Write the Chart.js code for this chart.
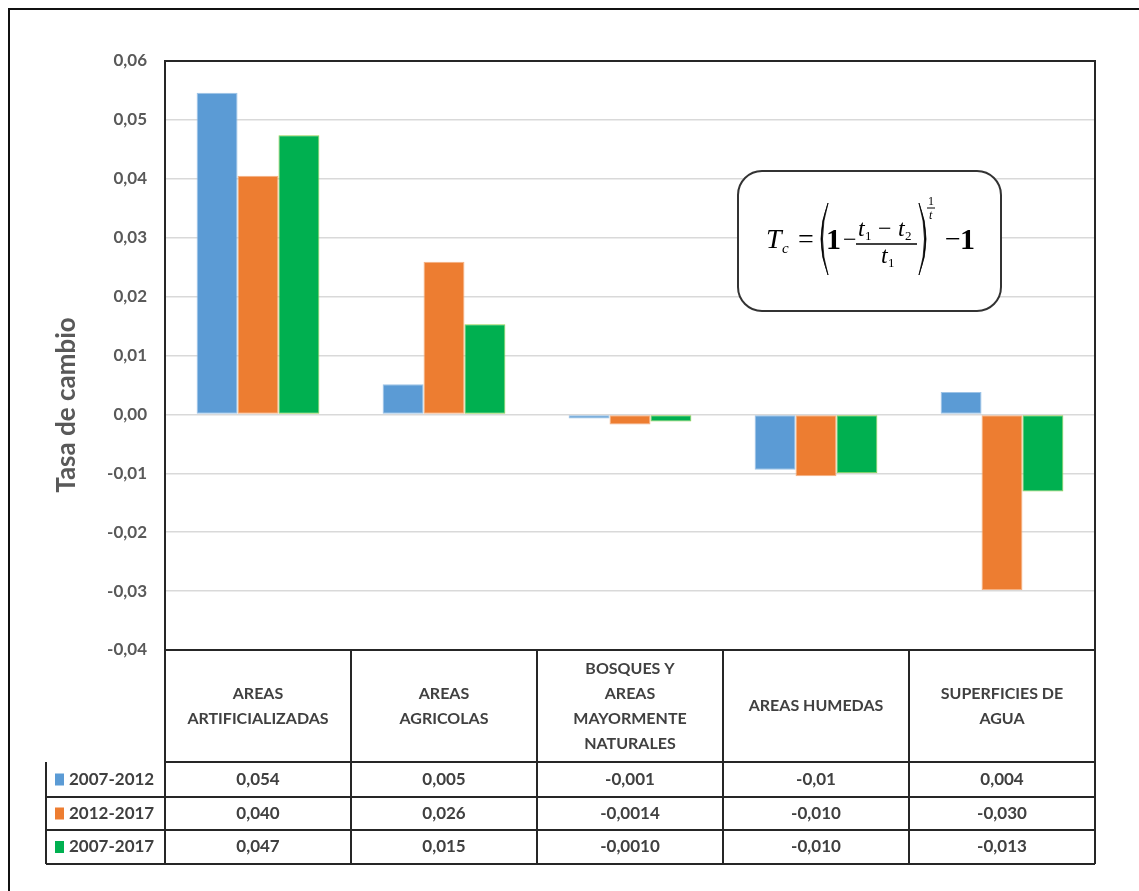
<!DOCTYPE html>
<html>
<head>
<meta charset="utf-8">
<script src="https://cdn.jsdelivr.net/npm/chart.js@4"></script>
<style>
  body { margin: 0; background: #fff; }
  canvas { display: block; }
</style>
</head>
<body>
<canvas id="tasa" width="1139" height="891"></canvas>
<script>
// categorias (lineas del encabezado de la tabla)
const categories = [
    ['AREAS', 'ARTIFICIALIZADAS'],
    ['AREAS', 'AGRICOLAS'],
    ['BOSQUES Y', 'AREAS', 'MAYORMENTE', 'NATURALES'],
    ['AREAS HUMEDAS'],
    ['SUPERFICIES DE', 'AGUA'],
];
const seriesNames = ['2007-2012', '2012-2017', '2007-2017'];
const seriesColors = ['#5B9BD5', '#ED7D31', '#00B050'];
const seriesBorders = ['#9DC3E6', '#F4B183', '#92D050'];

const values_0712 = [0.0546, 0.0051, -0.0007, -0.0094, 0.0038];
const values_1217 = [0.0405, 0.0259, -0.0017, -0.0105, -0.0298];
const values_0717 = [0.0474, 0.0153, -0.0012, -0.0100, -0.0131];

// textos de la tabla de datos
const table_0712 = ['0,054', '0,005', '-0,001', '-0,01', '0,004'];
const table_1217 = ['0,040', '0,026', '-0,0014', '-0,010', '-0,030'];
const table_0717 = ['0,047', '0,015', '-0,0010', '-0,010', '-0,013'];
const tableRows = [table_0712, table_1217, table_0717];

const yMin = -0.04, yMax = 0.06, yStep = 0.01;
const yTitle = 'Tasa de cambio';

const textColor = '#404040';
const font = 'Lato, "Open Sans", sans-serif';

// borde, tabla, titulo y formula
const extras = {
    id: 'extras',
    afterDraw(chart) {
        const ctx = chart.ctx;
        const area = chart.chartArea;
        const x = chart.scales.x;
        const step = (area.right - area.left) / categories.length;
        const headBottom = 762;
        const rowsY = [762, 797, 830, 864];
        const legendLeft = 46;

        ctx.save();
        // marco exterior
        ctx.strokeStyle = '#111';
        ctx.lineWidth = 2;
        ctx.beginPath();
        ctx.moveTo(1139, 9);
        ctx.lineTo(9, 9);
        ctx.lineTo(9, 891);
        ctx.stroke();

        // marco del grafico y tabla
        ctx.strokeStyle = '#262626';
        ctx.lineWidth = 2;
        ctx.beginPath();
        ctx.moveTo(area.left, rowsY[3]);
        ctx.lineTo(area.left, area.top);
        ctx.lineTo(area.right, area.top);
        ctx.lineTo(area.right, rowsY[3]);
        ctx.moveTo(area.left, area.bottom);
        ctx.lineTo(area.right, area.bottom);
        for (let i = 1; i < categories.length; i++) {
            const cx = area.left + step * i;
            ctx.moveTo(cx, area.bottom);
            ctx.lineTo(cx, rowsY[3]);
        }
        for (let r = 0; r < rowsY.length; r++) {
            ctx.moveTo(r === 0 ? area.left : legendLeft, rowsY[r]);
            ctx.lineTo(area.right, rowsY[r]);
        }
        ctx.moveTo(legendLeft, rowsY[0]);
        ctx.lineTo(legendLeft, rowsY[3]);
        ctx.stroke();

        // encabezados
        ctx.fillStyle = textColor;
        ctx.textAlign = 'center';
        ctx.textBaseline = 'middle';
        ctx.font = 'bold 16px ' + font;
        const headMid = (area.bottom + headBottom) / 2;
        categories.forEach((lines, i) => {
            const cx = x.getPixelForValue(i);
            lines.forEach((ln, k) => {
                const y = headMid + (k - (lines.length - 1) / 2) * 25;
                ctx.fillText(ln, cx, y);
            });
        });

        // filas de valores
        ctx.font = 'bold 17px ' + font;
        tableRows.forEach((row, r) => {
            const cy = (rowsY[r] + rowsY[r + 1]) / 2;
            row.forEach((t, i) => {
                ctx.fillText(t, x.getPixelForValue(i), cy);
            });
            ctx.fillStyle = seriesColors[r];
            ctx.fillRect(55, cy - 6, 9, 12);
            ctx.fillStyle = textColor;
            ctx.textAlign = 'left';
            ctx.fillText(seriesNames[r], 69, cy);
            ctx.textAlign = 'center';
        });

        // titulo del eje
        ctx.save();
        ctx.translate(67, 405);
        ctx.rotate(-Math.PI / 2);
        ctx.fillStyle = '#595959';
        ctx.font = 'bold 26px ' + font;
        ctx.fillText(yTitle, 0, 0);
        ctx.restore();

        // recuadro de la formula
        ctx.strokeStyle = '#333';
        ctx.lineWidth = 2;
        ctx.beginPath();
        ctx.roundRect(738, 171, 263, 140, 24);
        ctx.fillStyle = '#fff';
        ctx.fill();
        ctx.stroke();

        const serif = '"Liberation Serif", "DejaVu Serif", serif';
        ctx.fillStyle = '#000';
        ctx.textAlign = 'left';
        ctx.textBaseline = 'alphabetic';
        ctx.font = 'italic 28px ' + serif;
        ctx.fillText('T', 766, 248);
        ctx.font = 'italic 15px ' + serif;
        ctx.fillText('c', 782, 253);
        ctx.font = '28px ' + serif;
        ctx.fillText('=', 798, 248);

        const paren = (px, dir) => {
            ctx.beginPath();
            ctx.moveTo(px, 203);
            ctx.quadraticCurveTo(px - dir * 14, 239, px, 275);
            ctx.quadraticCurveTo(px - dir * 11, 239, px, 203);
            ctx.fill();
            ctx.lineWidth = 0.8;
            ctx.stroke();
        };
        ctx.strokeStyle = '#000';
        paren(828, 1);
        paren(919, -1);

        ctx.font = 'bold 30px ' + serif;
        ctx.fillText('1', 826, 249);
        ctx.font = '24px ' + serif;
        ctx.fillText('\u2212', 843, 247);

        ctx.font = 'italic 24px ' + serif;
        ctx.fillText('t', 858, 236);
        ctx.fillText('t', 898, 236);
        ctx.fillText('t', 881, 263);
        ctx.font = '24px ' + serif;
        ctx.fillText('\u2212', 878, 236);
        ctx.font = '13px ' + serif;
        ctx.fillText('1', 865, 240);
        ctx.fillText('2', 905, 240);
        ctx.fillText('1', 888, 267);
        ctx.lineWidth = 1.3;
        ctx.beginPath();
        ctx.moveTo(856, 244);
        ctx.lineTo(917, 244);
        ctx.stroke();

        ctx.font = '12px ' + serif;
        ctx.fillText('1', 928, 205);
        ctx.beginPath();
        ctx.moveTo(927, 208);
        ctx.lineTo(935, 208);
        ctx.lineWidth = 1;
        ctx.stroke();
        ctx.font = 'italic 12px ' + serif;
        ctx.fillText('t', 929, 219);

        ctx.font = '28px ' + serif;
        ctx.fillText('\u2212', 945, 248);
        ctx.font = 'bold 30px ' + serif;
        ctx.fillText('1', 960, 249);
        ctx.restore();
    }
};

const data_tasa = {
    labels: categories.map(c => c.join(' ')),
    datasets: [values_0712, values_1217, values_0717].map((vals, i) => ({
        label: seriesNames[i],
        data: vals,
        backgroundColor: seriesColors[i],
        borderColor: seriesBorders[i],
        borderWidth: 1,
        borderSkipped: false,
    })),
};

const config_tasa = {
    type: 'bar',
    data: data_tasa,
    options: {
        responsive: false,
        animation: false,
        devicePixelRatio: 1,
        layout: { padding: { left: 0, top: 61, right: 44, bottom: 241 } },
        datasets: { bar: { categoryPercentage: 0.66, barPercentage: 1.0 } },
        plugins: { legend: { display: false }, tooltip: { enabled: false } },
        scales: {
            x: {
                display: false,
            },
            y: {
                min: yMin,
                max: yMax,
                afterFit(scale) { scale.width = 165; },
                ticks: {
                    stepSize: yStep,
                    padding: 18,
                    color: '#595959',
                    font: { family: font, size: 17, weight: 'bold' },
                    callback: v => v.toFixed(2).replace('.', ','),
                },
                grid: { color: '#D9D9D9', lineWidth: 1.5, drawTicks: false },
                border: { display: true, color: '#262626', width: 2 },
            },
        },
    },
    plugins: [extras],
};

const tasa_chart = new Chart(document.getElementById('tasa'), config_tasa);
</script>
</body>
</html>
